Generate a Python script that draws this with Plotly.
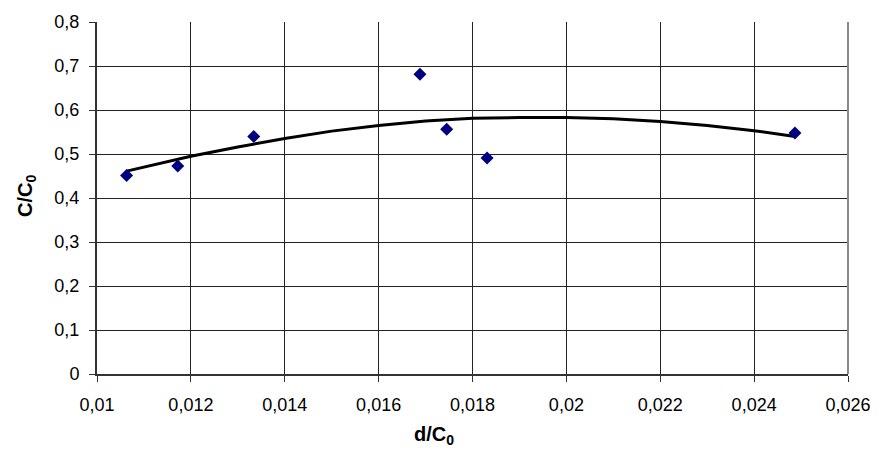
import plotly.graph_objects as go

# measured points
pts_x = [0.01063, 0.01172, 0.01334, 0.01688, 0.01745, 0.01831, 0.02487]
pts_y = [0.451, 0.473, 0.540, 0.681, 0.556, 0.491, 0.548]

# trend curve
trend_x = [0.01063, 0.011, 0.012, 0.013, 0.014, 0.015, 0.016, 0.017, 0.018,
           0.019, 0.020, 0.021, 0.022, 0.023, 0.024, 0.02487]
trend_y = [0.461, 0.470, 0.495, 0.516, 0.535, 0.552, 0.565, 0.575, 0.581,
           0.583, 0.583, 0.580, 0.574, 0.565, 0.553, 0.540]

x_ticks = [0.01, 0.012, 0.014, 0.016, 0.018, 0.02, 0.022, 0.024, 0.026]
y_ticks = [0, 0.1, 0.2, 0.3, 0.4, 0.5, 0.6, 0.7, 0.8]

FONT = "Arial, 'Liberation Sans', sans-serif"

fig = go.Figure()
fig.add_trace(go.Scatter(x=trend_x, y=trend_y, mode="lines",
                         line=dict(color="black", width=3), showlegend=False))
fig.add_trace(go.Scatter(x=pts_x, y=pts_y, mode="markers",
                         marker=dict(symbol="diamond", size=10, color="#000080",
                                     line=dict(width=0)),
                         showlegend=False))

fig.add_shape(type="line", xref="x domain", yref="y domain", x0=1, x1=1, y0=0, y1=1,
              line=dict(color="#888888", width=2))

fig.add_annotation(text="<b>d/C<sub>0</sub></b>", xref="paper", yref="paper",
                   x=0.449, y=-0.176, showarrow=False, font=dict(size=20),
                   xanchor="center", yanchor="middle")
fig.add_annotation(text="<b>C/C<sub>0</sub></b>", xref="paper", yref="paper",
                   x=-0.094, y=0.507, showarrow=False, font=dict(size=20),
                   textangle=-90, xanchor="center", yanchor="middle")

fig.update_layout(
    width=883, height=451,
    margin=dict(l=97, r=25, t=21, b=77),
    paper_bgcolor="white", plot_bgcolor="white",
    separators=",.",
    font=dict(family=FONT, size=18, color="black"),
    xaxis=dict(range=[0.01, 0.026], tickvals=x_ticks, showgrid=True,
               gridcolor="#222222", gridwidth=1, zeroline=False,
               showline=True, linecolor="#333333", linewidth=2,
               ticks="outside", ticklen=6, tickcolor="#333333",
               ticklabelstandoff=7),
    yaxis=dict(range=[0, 0.8], tickvals=y_ticks, showgrid=True,
               gridcolor="#222222", gridwidth=1, zeroline=False,
               showline=True, linecolor="#333333", linewidth=2,
               ticks="outside", ticklen=6, tickcolor="#333333",
               ticklabelstandoff=6),
)

fig.write_html("out.html", config={"displayModeBar": False},
               post_script="document.body.style.margin='0';")
